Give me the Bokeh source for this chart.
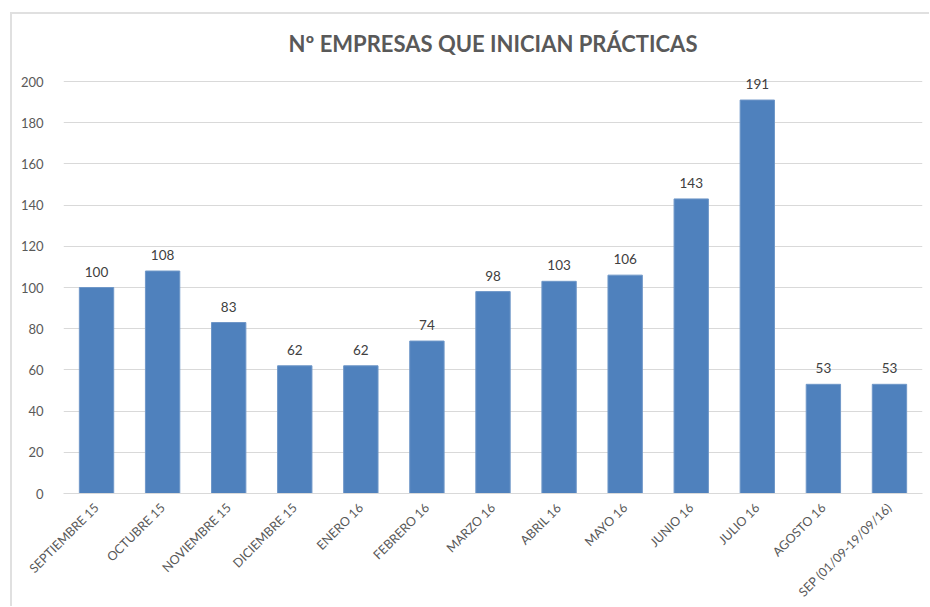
from bokeh.plotting import figure
from bokeh.models import ColumnDataSource, Range1d, FixedTicker, Label
from bokeh.core.properties import value
from bokeh.embed import file_html
from bokeh.resources import INLINE

title_text = "Nº EMPRESAS QUE INICIAN PRÁCTICAS"
categories = ["SEPTIEMBRE 15", "OCTUBRE 15", "NOVIEMBRE 15", "DICIEMBRE 15", "ENERO 16",
              "FEBRERO 16", "MARZO 16", "ABRIL 16", "MAYO 16", "JUNIO 16", "JULIO 16",
              "AGOSTO 16", "SEP (01/09-19/09/16)"]
values = [100, 108, 83, 62, 62, 74, 98, 103, 106, 143, 191, 53, 53]
y_ticks = [0, 20, 40, 60, 80, 100, 120, 140, 160, 180, 200]

FONT = "Lato"
src = ColumnDataSource(dict(cat=categories, val=values, lab=[str(v) for v in values]))

p = figure(x_range=categories, y_range=Range1d(0, 230.1), width=919, height=594,
           output_backend="svg", toolbar_location=None,
           min_border_left=51, min_border_right=9, min_border_top=5, min_border_bottom=115)

p.vbar(x="cat", top="val", width=0.52, source=src, fill_color="#4f81bd", line_color="#6f97c8", line_width=1)
p.text(x="cat", y="val", text="lab", source=src, text_align="center", text_baseline="bottom",
       y_offset=-11, text_font=value(FONT), text_font_size="13.5px", text_color="#404040")

p.add_layout(Label(x=len(categories) / 2, y=218.5, text=title_text, text_align="center",
                   text_baseline="middle", text_font=FONT, text_font_size="22px",
                   text_font_style="bold", text_color="#595959"))

p.outline_line_color = None
p.xgrid.grid_line_color = None
p.ygrid.grid_line_color = "#d9d9d9"
p.yaxis.ticker = FixedTicker(ticks=y_ticks)
p.yaxis.axis_line_color = None
p.yaxis.major_tick_line_color = None
p.yaxis.minor_tick_line_color = None
p.yaxis.major_label_text_font = FONT
p.yaxis.major_label_text_font_size = "13px"
p.yaxis.major_label_text_color = "#595959"
p.yaxis.major_label_standoff = 14
p.xaxis.axis_line_color = "#d9d9d9"
p.xaxis.major_tick_line_color = None
p.xaxis.minor_tick_line_color = None
p.xaxis.major_label_orientation = 0.7854
p.xaxis.major_label_text_font = FONT
p.xaxis.major_label_text_font_size = "12.5px"
p.xaxis.major_label_text_color = "#595959"
p.xaxis.major_label_standoff = 6
p.x_range.range_padding = 0
p.styles = {"margin-left": "10px", "margin-top": "12px",
            "border-left": "2px solid #e0e0e0", "border-top": "2px solid #e0e0e0"}

open("out.html", "w").write(file_html(p, INLINE))
